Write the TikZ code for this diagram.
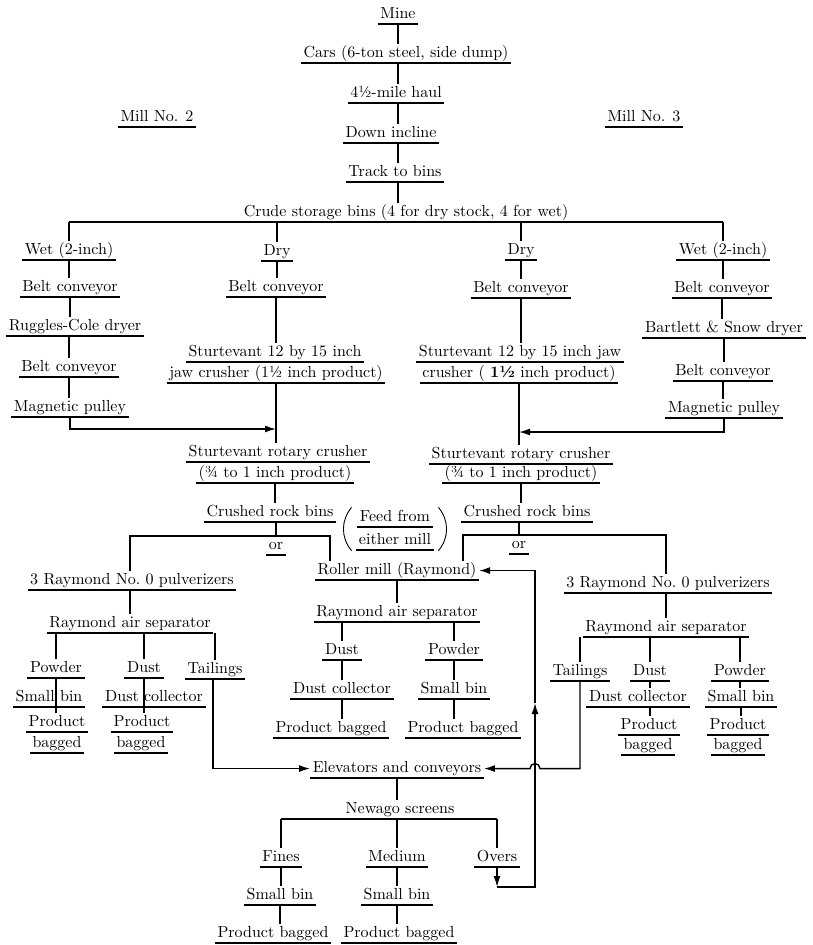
\documentclass[tikz,border=0pt]{standalone}
\usepackage{fontspec}
\setmainfont{lmroman10-regular.otf}[BoldFont=lmroman10-bold.otf]
\usetikzlibrary{fit,arrows.meta}

\tikzset{
  bare/.style={anchor=south, inner xsep=2pt, inner ysep=1.5pt, text height=11pt, text depth=3.5pt},
  lbl/.style={bare, append after command={(\tikzlastnode.south west) edge (\tikzlastnode.south east)}},
  >={Latex[length=11pt,width=7pt]},
}

\begin{document}
\begin{tikzpicture}[x=1pt, y=1pt, line width=1.4pt, font=\fontsize{16}{18}\selectfont]
\useasboundingbox (0,0) rectangle (813,-945);

% mine to bins
\node[lbl] (mine) at (398,-24) {Mine};
\node[lbl] (cars) at (406,-63) {Cars (6-ton steel, side dump)};
\node[lbl] (haul) at (396,-103) {4½-mile haul};
\node[lbl] (incline) at (391,-143) {Down incline};
\node[lbl] (track) at (395,-182) {Track to bins};
\node[bare] (crude) at (406,-222) {Crude storage bins (4 for dry stock, 4 for wet)};
\node[lbl] (millL) at (157,-127) {Mill No. 2};
\node[lbl] (millR) at (644,-127) {Mill No. 3};

% mill no. 2
\node[lbl] (wetL) at (69,-260) {Wet (2-inch)};
\node[lbl] (beltLa) at (70,-297) {Belt conveyor};
\node[lbl] (ruggles) at (75,-336) {Ruggles-Cole dryer};
\node[lbl] (beltLc) at (69,-377) {Belt conveyor};
\node[lbl] (magL) at (70,-417) {Magnetic pulley};
\node[lbl] (dryL) at (277,-261) {Dry};
\node[lbl] (beltLb) at (276,-297) {Belt conveyor};
\node[lbl] (jawLa) at (275,-362) {Sturtevant 12 by 15 inch};
\node[lbl] (jawLb) at (276,-383) {jaw crusher (1½ inch product)};
\node[lbl] (rotLa) at (278,-462) {Sturtevant rotary crusher};
\node[lbl] (rotLb) at (275,-483) {(¾ to 1 inch product)};
\node[lbl] (binsL) at (270,-522) {Crushed rock bins};
\node[lbl] (orL) at (276,-555) {or};

% mill no. 3
\node[lbl] (dryR) at (521,-260) {Dry};
\node[lbl] (beltRb) at (521,-298) {Belt conveyor};
\node[lbl] (jawRa) at (520,-362) {Sturtevant 12 by 15 inch jaw};
\node[lbl] (jawRb) at (519,-383) {crusher (\ \textbf{1½}\ inch product)};
\node[lbl] (rotRa) at (521,-464) {Sturtevant rotary crusher};
\node[lbl] (rotRb) at (521,-483) {(¾ to 1 inch product)};
\node[lbl] (binsR) at (527,-522) {Crushed rock bins};
\node[lbl] (orR) at (519,-554) {or};
\node[lbl] (wetR) at (723,-260) {Wet (2-inch)};
\node[lbl] (beltRa) at (722,-298) {Belt conveyor};
\node[lbl] (bartlett) at (724,-338) {Bartlett \& Snow dryer};
\node[lbl] (beltRc) at (723,-381) {Belt conveyor};
\node[lbl] (magR) at (724,-418) {Magnetic pulley};

% roller mill
\node[lbl] (feedA) at (395,-527) {Feed from};
\node[lbl] (feedB) at (395,-550) {either mill};
\node[fit=(feedA)(feedB), inner sep=0pt] (feed) {};
\node[lbl] (roller) at (397,-580) {Roller mill (Raymond)};
\node[lbl] (sepM) at (397,-622) {Raymond air separator};
\node[lbl] (dustM) at (342,-660) {Dust};
\node[lbl] (powderM) at (454,-660) {Powder};
\node[lbl] (dcollM) at (342,-699) {Dust collector};
\node[lbl] (sbinM) at (454,-699) {Small bin};
\node[lbl] (pbagM1) at (331,-738) {Product bagged};
\node[lbl] (pbagM2) at (463,-738) {Product bagged};

% pulverizers, left
\node[lbl] (pulvL) at (132,-590) {3 Raymond No.~0 pulverizers};
\node[lbl] (sepL) at (130,-633) {Raymond air separator};
\node[lbl] (powderL) at (56,-678) {Powder};
\node[lbl] (dustL) at (144,-678) {Dust};
\node[lbl] (tailL) at (215,-679) {Tailings};
\node[lbl] (sbinL) at (49,-707) {Small bin};
\node[lbl] (dcollL) at (154,-707) {Dust collector};
\node[lbl] (prodLa) at (57,-732) {Product};
\node[lbl] (prodLb) at (57,-753) {bagged};
\node[lbl] (prodDa) at (142,-732) {Product};
\node[lbl] (prodDb) at (141,-753) {bagged};

% pulverizers, right
\node[lbl] (pulvR) at (668,-593) {3 Raymond No.~0 pulverizers};
\node[lbl] (sepR) at (666,-637) {Raymond air separator};
\node[lbl] (tailR) at (580,-681) {Tailings};
\node[lbl] (dustR) at (650,-681) {Dust};
\node[lbl] (powderR) at (740,-681) {Powder};
\node[lbl] (dcollR) at (638,-707) {Dust collector};
\node[lbl] (sbinR) at (741,-707) {Small bin};
\node[lbl] (prodRa) at (649,-735) {Product};
\node[lbl] (prodRb) at (648,-755) {bagged};
\node[lbl] (prodSa) at (738,-735) {Product};
\node[lbl] (prodSb) at (738,-755) {bagged};

% screens
\node[lbl] (elev) at (397,-778) {Elevators and conveyors};
\node[bare] (newago) at (400,-819) {Newago screens};
\node[lbl] (fines) at (281,-867) {Fines};
\node[lbl] (medium) at (397,-867) {Medium};
\node[lbl] (overs) at (497,-867) {Overs};
\node[lbl] (sbinF) at (280,-905) {Small bin};
\node[lbl] (sbinMed) at (397,-905) {Small bin};
\node[lbl] (pbagF) at (273,-943) {Product bagged};
\node[lbl] (pbagMed) at (399,-943) {Product bagged};

\foreach \a/\b in {mine/cars,cars/haul,haul/incline,incline/track,track/crude}
  \draw (\a.south -| mine) -- (\b.north -| mine);

\draw (wetL.north |- crude.south) -- (wetR.north |- crude.south);
\foreach \n in {wetL,dryL,dryR,wetR}
  \draw (\n.north |- crude.south) -- (\n.north);

\foreach \a/\b in {wetL/beltLa,beltLa/ruggles,beltLc/magL,
    dryL/beltLb,beltLb/jawLa,jawLb/rotLa,rotLb/binsL,
    dryR/beltRb,beltRb/jawRa,jawRb/rotRa,rotRb/binsR,
    wetR/beltRa,beltRa/bartlett,bartlett/beltRc,beltRc/magR,
    roller/sepM,dustM/dcollM,dcollM/pbagM1,powderM/sbinM,sbinM/pbagM2,
    dustR/dcollR,powderR/sbinR,sbinR/prodSa,
    elev/newago,fines/sbinF,sbinF/pbagF,medium/sbinMed,sbinMed/pbagMed}
  \draw (\a.south) -- (\a.south |- \b.north);

\draw (ruggles.south -| beltLc) -- (beltLc.north);
\draw (dcollR.south -| dustR) -- (prodRa.north -| dustR);
\draw (powderL.south) -- (powderL.south |- prodLa.north);
\draw (dustL.south) -- (dustL.south |- prodDa.north);

% dryers into the jaw crusher line
\coordinate (joinL) at (276,-429);
\coordinate (joinR) at (519,-432);
\draw[->] (magL.south) |- (joinL);
\draw[->] (magR.south) |- (joinR);

% crushed rock bins, either way
\draw (orL |- binsL.south) -- (orL.north);
\draw (sepL |- pulvL.north) |- (orL.north) -| ([xshift=-67pt]roller.north);
\draw (orR |- binsR.south) -- (orR.north);
\draw ([xshift=66pt]roller.north) |- (orR.north) -| (sepR |- pulvR.north);
\draw (pulvL.south -| sepL) -- (sepL.north);
\draw (pulvR.south -| sepR) -- (sepR.north);

\foreach \n in {powderL,dustL,tailL} \draw (\n.north |- sepL.south) -- (\n.north);
\foreach \n in {dustM,powderM} \draw (\n.north |- sepM.south) -- (\n.north);
\foreach \n in {tailR,dustR,powderR} \draw (\n.north |- sepR.south) -- (\n.north);

\draw[line width=0.9pt] ([xshift=-4pt]feed.north west) to[bend right=40] ([xshift=-4pt]feed.south west);
\draw[line width=0.9pt] ([xshift=4pt]feed.north east) to[bend left=40] ([xshift=4pt]feed.south east);

% tailings and overs
\coordinate (loopB) at (535,-887);
\coordinate (loopM) at (535,-703);
\coordinate (hop) at (elev.east -| loopB);
\draw[->] ([xshift=-2pt]tailL.south) |- (elev.west);
\draw[->] (tailR.south) |- ([xshift=5pt]hop) arc (0:180:5) -- (elev.east);
\draw (fines.north |- newago.south) -- (overs.north |- newago.south);
\foreach \n in {fines,medium,overs} \draw (\n.north |- newago.south) -- (\n.north);
\draw[->] (overs.south) -- (overs.south |- loopB);
\draw[->] (overs.south |- loopB) -- (loopB) -- (loopM);
\draw[->] (loopM) |- (roller.east);

\end{tikzpicture}
\end{document}
